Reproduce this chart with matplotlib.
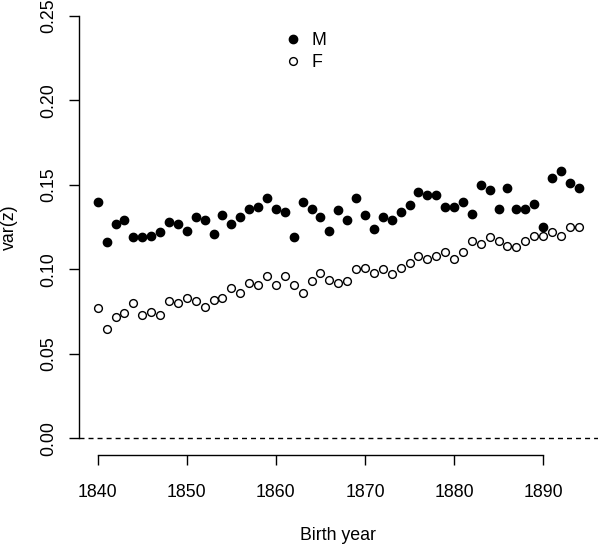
import matplotlib
matplotlib.use("Agg")
import matplotlib.pyplot as plt
import numpy as np

plt.rcParams['font.family'] = ['Liberation Sans', 'DejaVu Sans']

years = list(range(1840, 1895))

var_m = [0.140, 0.116, 0.127, 0.129, 0.119, 0.119, 0.120, 0.122, 0.128, 0.127,
         0.123, 0.131, 0.129, 0.121, 0.132, 0.127, 0.131, 0.136, 0.137, 0.142,
         0.136, 0.134, 0.119, 0.140, 0.136, 0.131, 0.123, 0.135, 0.129, 0.142,
         0.132, 0.124, 0.131, 0.129, 0.134, 0.138, 0.146, 0.144, 0.144, 0.137,
         0.137, 0.140, 0.133, 0.150, 0.147, 0.136, 0.148, 0.136, 0.136, 0.139,
         0.125, 0.154, 0.158, 0.151, 0.148]

var_f = [0.077, 0.065, 0.072, 0.074, 0.080, 0.073, 0.075, 0.073, 0.081, 0.080,
         0.083, 0.081, 0.078, 0.082, 0.083, 0.089, 0.086, 0.092, 0.091, 0.096,
         0.091, 0.096, 0.091, 0.086, 0.093, 0.098, 0.094, 0.092, 0.093, 0.100,
         0.101, 0.098, 0.100, 0.097, 0.101, 0.104, 0.108, 0.106, 0.108, 0.110,
         0.106, 0.110, 0.117, 0.115, 0.119, 0.117, 0.114, 0.113, 0.117, 0.120,
         0.120, 0.122, 0.120, 0.125, 0.125]

xticks = [1840, 1850, 1860, 1870, 1880, 1890]
yticks = [0.00, 0.05, 0.10, 0.15, 0.20, 0.25]
ytick_labels = ["0.00", "0.05", "0.10", "0.15", "0.20", "0.25"]

W, H = 600, 545
fig = plt.figure(figsize=(W / 100, H / 100), dpi=100)
ax = fig.add_axes([78.5 / W, (H - 455.2) / H, (598 - 78.5) / W, 456.1 / H])

ax.plot(years, var_m, linestyle='none', marker='o', markersize=6,
        markerfacecolor='black', markeredgecolor='black', label='M')
ax.plot(years, var_f, linestyle='none', marker='o', markersize=5.6,
        markerfacecolor='white', markeredgecolor='black', markeredgewidth=1.0,
        label='F')

ax.axhline(0, color='black', linewidth=1.0, linestyle=(0, (3.6, 2.9)))

ax.set_xlim(1840 - 54 * 0.04, 1894 + 54 * 0.04)
ax.set_ylim(-0.01, 0.26)

for s in ['top', 'right']:
    ax.spines[s].set_visible(False)
ax.spines['left'].set_bounds(0, 0.25)
ax.spines['bottom'].set_bounds(1840, 1890)
for s in ['left', 'bottom']:
    ax.spines[s].set_linewidth(1.0)

ax.set_xticks(xticks)
ax.set_xticklabels([str(t) for t in xticks])
ax.set_yticks(yticks)
ax.set_yticklabels(ytick_labels, rotation=90, va='center')
ax.tick_params(axis='both', direction='out', length=7.2, width=1.0,
               labelsize=12.8, colors='black')
ax.tick_params(axis='x', pad=13.5)
ax.tick_params(axis='y', pad=8)

ax.set_xlabel('Birth year', fontsize=12.8, va='center')
ax.xaxis.set_label_coords(0.5, (455.2 - 536) / 456.1)
ax.set_ylabel('var(z)', fontsize=12.8, va='center')
ax.yaxis.set_label_coords((9 - 78.5) / 519.5, 0.5)

leg = ax.legend(loc='center', bbox_to_anchor=(306 / W, 1 - 51.5 / H),
                bbox_transform=fig.transFigure, frameon=False, fontsize=12.8,
                handlelength=0.8, handletextpad=0.6, labelspacing=0.3,
                borderpad=0, borderaxespad=0)

fig.savefig('out.png', dpi=100)
